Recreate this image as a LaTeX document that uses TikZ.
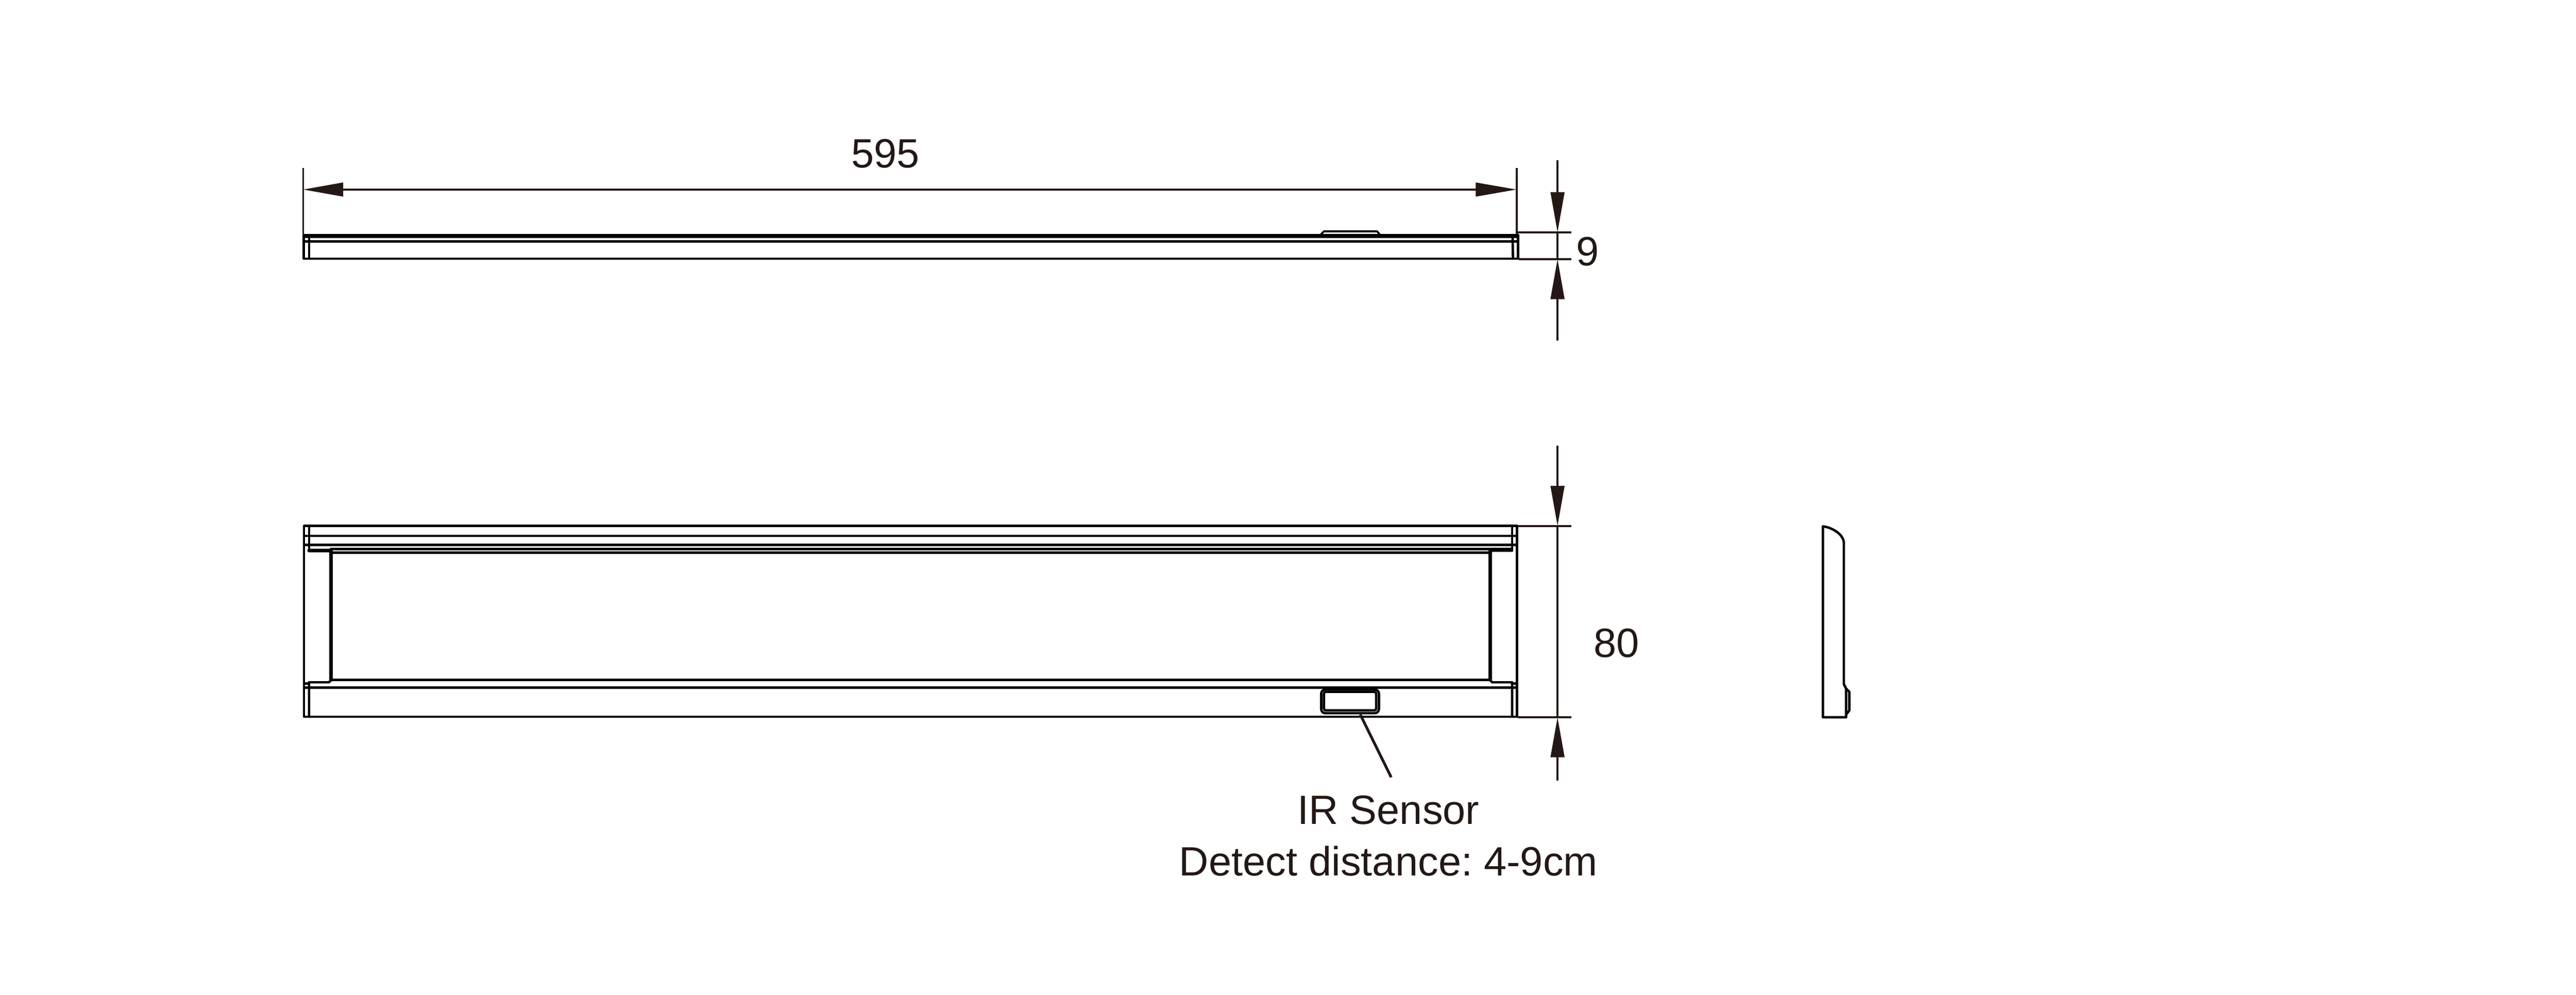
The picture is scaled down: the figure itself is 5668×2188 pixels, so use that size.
\documentclass[tikz,border=0pt]{standalone}
\usepackage{fontspec}
\setmainfont{Liberation Sans}
\usetikzlibrary{arrows.meta}
\definecolor{dimcol}{HTML}{231815}
\newcommand{\lbl}{\fontsize{25.6}{31}\selectfont\frenchspacing}
\tikzset{
  outline/.style={draw=black,line width=1.5pt,line join=round,line cap=round},
  heavy/.style={outline,line width=2.2pt},
  band/.style={draw=black,line width=2.56pt},
  dimline/.style={draw=dimcol,line width=1.2pt},
  tall/.style={dimline,-{Triangle[length=.88cm,width=.30cm]}},
  wide/.style={dimline,{Triangle[length=.88cm,width=.30cm]}-{Triangle[length=.90cm,width=.30cm]}},
  txt/.style={text=dimcol,font=\lbl,inner sep=0pt}
}
\begin{document}
\begin{tikzpicture}[x=0.01cm,y=-0.01cm]
    \useasboundingbox (0,0) rectangle (5668,2188);
    % top view
    \path [outline] (668,517) -- (668,569) -- (3340,569) -- (3340,517);
    \path [outline] (680,517) -- (680,569);
    \path [outline] (3328,517) -- (3329,569);
    \path [outline] (668,531) -- (3340,531);
    \path [band] (668,519.5) -- (3342,519.5);
    \path [outline,line width=1.2pt] (2906,516) -- (2913,509) -- (3030,509) -- (3036,516);
    % length
    \coordinate (LA) at (667,417);
    \coordinate (LB) at (3337,417);
    \path [dimline] (667,370) -- (667,515);
    \path [dimline] (3337,370) -- (3337,515);
    \path [wide] (LA) -- (LB);
    \node [txt] (L) at (1948,338) {595};
    % height
    \coordinate (HA) at (3427,352);
    \coordinate (HB) at (3427,511);
    \coordinate (HC) at (3427,749);
    \coordinate (HD) at (3427,570);
    \path [dimline] (3337,511) -- (3458,511);
    \path [dimline] (3342,570) -- (3458,570);
    \path [dimline] (HB) -- (HD);
    \path [tall] (HA) -- (HB);
    \path [tall] (HC) -- (HD);
    \node [txt] (H) at (3493,553) {9};
    % front view
    \path [outline] (669,1157) -- (3338,1157) -- (3338,1577) -- (669,1577) -- cycle;
    \foreach \y in {1179,1199,1513}
      \path [outline] (669,\y) -- (3338,\y);
    \path [outline] (680,1157) -- (680,1211);
    \path [heavy] (680,1211) -- (728,1211);
    \path [outline] (3327,1157) -- (3327,1212) -- (3279,1212);
    \path [outline] (728,1208) -- (3327,1208);
    \path [outline] (728,1216) -- (3279,1216);
    \path [outline] (728,1496) -- (3279,1496);
    \path [heavy] (728,1212) -- (728,1496);
    \path [heavy] (3279,1212) -- (3279,1496);
    \path [outline] (680,1577) -- (680,1501) -- (724,1501) -- (728,1496);
    \path [outline] (3327,1577) -- (3327,1501) -- (3283,1501) -- (3279,1496);
    \path [outline] (669,1504) -- (680,1504);
    \path [outline] (3327,1504) -- (3338,1504);
    % sensor window
    \path [outline,rounded corners=2.6pt] (2907,1517) rectangle (3034,1569);
    \path [outline,rounded corners=1.2pt] (2913,1522) rectangle (3028,1563);
    \coordinate (SA) at (2993,1572);
    \coordinate (SB) at (3061,1710);
    \path [dimline,line width=1.7pt] (SA) -- (SB);
    \node [txt] (SN) at (3055,1782) {IR Sensor};
    \node [txt] (SD) at (3055,1894) {Detect distance: 4-9cm};
    % width
    \coordinate (WA) at (3427,981);
    \coordinate (WB) at (3427,1157);
    \coordinate (WC) at (3427,1717);
    \coordinate (WD) at (3427,1578);
    \path [dimline] (3340,1157) -- (3457,1157);
    \path [dimline] (3340,1578) -- (3457,1578);
    \path [dimline] (WB) -- (WD);
    \path [tall] (WA) -- (WB);
    \path [tall] (WC) -- (WD);
    \node [txt] (W) at (3557,1415) {80};
    % side view
    \path [outline] (4011,1158) .. controls (4030,1160) and (4057,1175) .. (4057,1195) -- (4057,1505) -- (4062,1515) -- (4062,1578) -- (4011,1578) -- cycle;
    \path [outline] (4062,1515) -- (4069,1522) -- (4069,1563) -- (4062,1572);
\end{tikzpicture}
\end{document}
